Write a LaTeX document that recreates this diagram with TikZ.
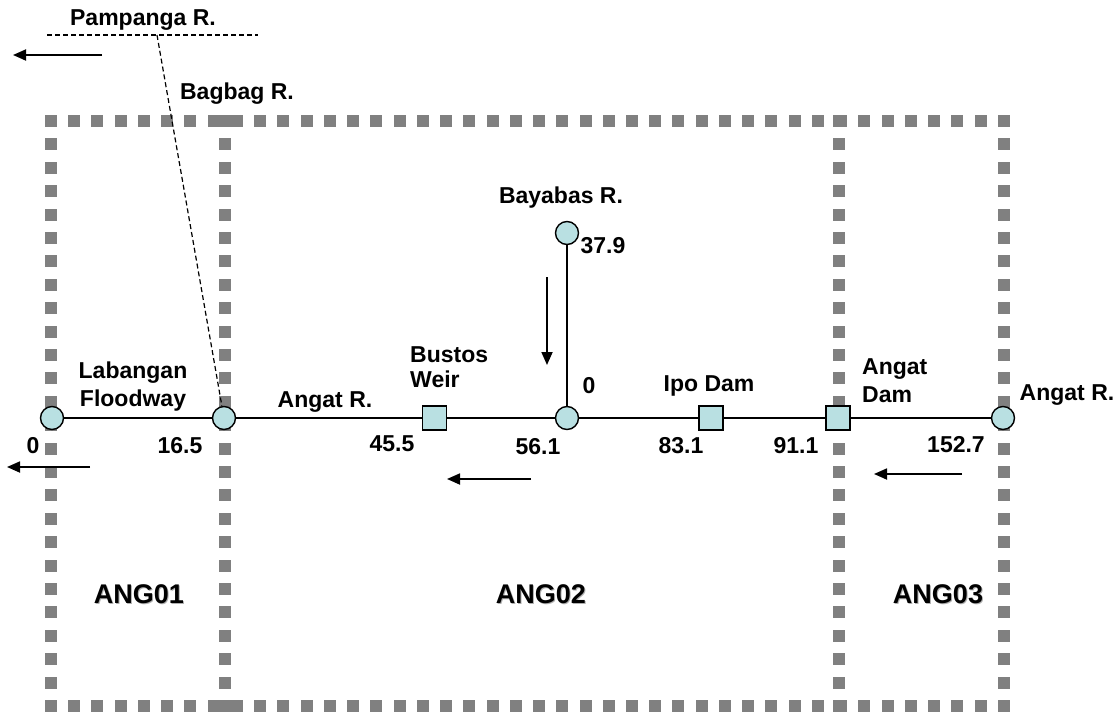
\documentclass[tikz,border=0pt]{standalone}
\usepackage{fontspec}
\setmainfont{Liberation Sans}
\usetikzlibrary{positioning,arrows.meta,calc}
\definecolor{stnclr}{RGB}{185,224,226}
\definecolor{zoneclr}{RGB}{128,128,128}
\definecolor{shadeclr}{RGB}{175,175,175}
\tikzset{
  lbl/.style={inner sep=0pt,font=\bfseries\fontsize{23}{28}\selectfont},
  zonelbl/.style={inner sep=0pt,font=\bfseries\fontsize{27}{30}\selectfont},
  stn/.style={circle,draw,line width=1.4pt,fill=stnclr,
              minimum size=23pt,inner sep=0pt},
  weir/.style={rectangle,draw,line width=1.4pt,fill=stnclr,
               minimum size=24pt,inner sep=0pt},
  reach/.style={line width=1.4pt},
  trib/.style={line width=1.2pt,dash pattern=on 5pt off 3pt},
  flow/.style={-{Triangle[length=13pt,width=11pt]},line width=1.8pt},
  blk/.style={fill=zoneclr},
}
\begin{document}
\begin{tikzpicture}[x=1pt,y=-1pt]
\useasboundingbox (0,0) rectangle (1119,715);

% Zone borders (dotted squares)
\foreach \i in {0,...,41} {
  \fill[blk] (45+\i*23.24,115) rectangle ++(12,12);
  \fill[blk] (45+\i*23.24,700) rectangle ++(12,12);
}
\foreach \i in {1,...,24} {
  \fill[blk] (45,115+\i*23.4) rectangle ++(12,12);
  \fill[blk] (998,115+\i*23.4) rectangle ++(12,12);
}
\foreach \i in {0,...,25} {
  \fill[blk] (219,115+\i*23.4) rectangle ++(12,12);
  \fill[blk] (833,115+\i*23.4) rectangle ++(12,12);
}

% Stations along Angat R.
\node[stn]  (mouth) at (52,418)    {};
\node[stn]  (bagbag) at (224,418)  {};
\node[weir] (bustos) at (434.5,418) {};
\node[stn]  (conf)  at (567,418)   {};
\node[stn]  (bayab) at (567,233)   {};
\node[weir] (ipo)   at (711,418)   {};
\node[weir] (angat) at (838,418)   {};
\node[stn]  (head)  at (1003,418)  {};

\draw[reach] (mouth) -- (bagbag);
\draw[reach] (bagbag) -- (bustos);
\draw[reach] (bustos) -- (conf);
\draw[reach] (conf) -- (ipo);
\draw[reach] (ipo) -- (angat);
\draw[reach] (angat) -- (head);
\draw[reach] (conf) -- (bayab);

% Pampanga R. and Bagbag R. (dashed)
\coordinate (pw) at (47,35);
\coordinate (pe) at (258,35);
\coordinate (pj) at (157,35);
\draw[trib] (pw) -- (pe);
\draw[trib] (pj) -- (bagbag);

% Flow direction
\coordinate (f1a) at (102,55);  \coordinate (f1b) at (13,55);
\coordinate (f2a) at (90,467);  \coordinate (f2b) at (7,467);
\coordinate (f3a) at (531,479); \coordinate (f3b) at (447,479);
\coordinate (f4a) at (962,474); \coordinate (f4b) at (874,474);
\coordinate (f5a) at (547,277); \coordinate (f5b) at (547,365);
\foreach \s/\t in {f1a/f1b,f2a/f2b,f3a/f3b,f4a/f4b,f5a/f5b}
  \draw[flow] (\s) -- (\t);

% Names
\node[lbl,anchor=base] (pamp) at (143,25)  {Pampanga R.};
\node[lbl,anchor=base] (bagr) at (237,99)  {Bagbag R.};
\node[lbl,anchor=base] (bayr) at (561,203) {Bayabas R.};
\node[lbl,anchor=north,align=center] (labf) at (133,361.5) {Labangan\\Floodway};
\node[lbl,anchor=base] (angl) at (325,407) {Angat R.};
\node[lbl,anchor=north west,align=left] (bstw) at (410,346.5) {Bustos\\[-3pt]Weir};
\node[lbl,anchor=base] (ipod) at (709,391) {Ipo Dam};
\node[lbl,anchor=north west,align=left] (angd) at (862,358.5) {Angat\\Dam};
\node[lbl,anchor=base] (angr) at (1067,400) {Angat R.};

% Chainage
\node[lbl,anchor=base] (k0)   at (33,453)  {0};
\node[lbl,anchor=base] (k165) at (180,453) {16.5};
\node[lbl,anchor=base] (k455) at (392,451) {45.5};
\node[lbl,anchor=base] (k561) at (538,454) {56.1};
\node[lbl,anchor=base] (k831) at (681,453) {83.1};
\node[lbl,anchor=base] (k911) at (796,453) {91.1};
\node[lbl,anchor=base] (k1527) at (956,452) {152.7};
\node[lbl,anchor=base] (b0)   at (589,393) {0};
\node[lbl,anchor=base] (b379) at (603,253) {37.9};

% Zones
\foreach \z/\x in {ANG01/139,ANG02/541,ANG03/938} {
  \node[zonelbl,anchor=base,text=shadeclr] at (\x+1,604) {\z};
  \node[zonelbl,anchor=base] (\z) at (\x,603) {\z};
}
\end{tikzpicture}
\end{document}
